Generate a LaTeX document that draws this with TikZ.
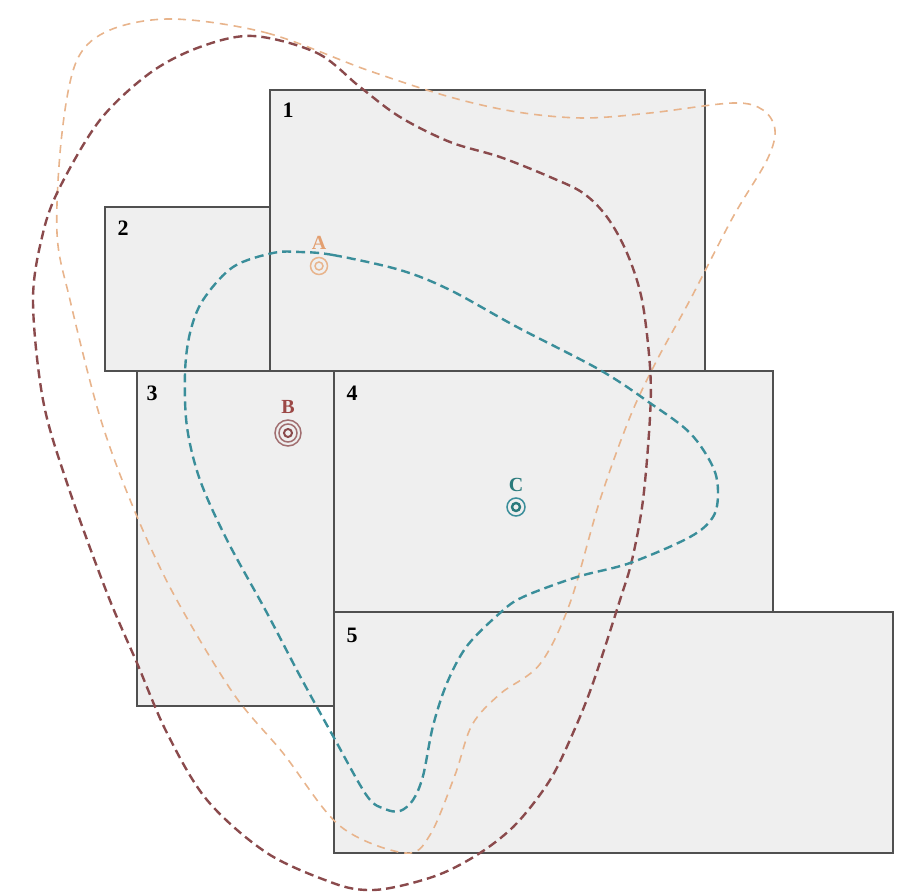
\documentclass[tikz,border=0pt]{standalone}
\usepackage{fontspec}
\setmainfont{Liberation Serif}
\usetikzlibrary{positioning}

\definecolor{peach}{HTML}{E8B48C}
\definecolor{peachtxt}{HTML}{E39F70}
\definecolor{wine}{HTML}{8A4A4C}
\definecolor{winetxt}{HTML}{9C4846}
\definecolor{tealz}{HTML}{3A8E9A}
\definecolor{tealtxt}{HTML}{2A7A7C}
\definecolor{roomfill}{HTML}{EFEFEF}
\definecolor{roomline}{HTML}{505050}

\begin{document}
\begin{tikzpicture}[
  x=1pt, y=-1pt,
  room/.style={fill=roomfill, draw=roomline, line width=1.8pt},
  num/.style={font=\bfseries\fontsize{22}{22}\selectfont, inner sep=0pt},
  ptlbl/.style={font=\bfseries\fontsize{20}{20}\selectfont, inner sep=0pt},
  zone/.style={dash pattern=on 9pt off 5pt, line width=2.4pt},
  ring/.style={line width=1.5pt}
]
\useasboundingbox (0,0) rectangle (900,893);

% rooms
\draw[room] (105,207) rectangle (270,371);
\draw[room] (270,90)  rectangle (705,371);
\draw[room] (137,371) rectangle (334,706);
\draw[room] (334,371) rectangle (773,612);
\draw[room] (334,612) rectangle (893,853);

\node[num] (r1) at (288,110) {1};
\node[num] (r2) at (123,228) {2};
\node[num] (r3) at (152,393) {3};
\node[num] (r4) at (352,393) {4};
\node[num] (r5) at (352,635) {5};

% coverage zones
\draw[zone, peach, line width=1.6pt, dash pattern=on 8pt off 6pt]
  plot[smooth cycle, tension=0.55] coordinates {
    (173,19) (267,33) (367,70) (450,97) (517,112) (583,118) (650,113)
    (733,103) (763,110) (775,130) (767,160) (733,217) (690,300) (657,360)
    (630,417) (600,500) (570,603) (540,664) (500,694) (472,725) (455,775)
    (430,835) (405,853) (340,826) (283,753) (233,693) (173,593) (133,507)
    (100,417) (70,300) (57,233) (62,133) (77,60) (110,30)};
\draw[zone, wine]
  plot[smooth cycle, tension=0.55] coordinates {
    (253,36) (317,53) (360,87) (400,117) (450,142) (500,157) (550,177)
    (583,193) (607,217) (627,253) (642,300) (650,367) (650,417) (643,500)
    (632,560) (620,600) (593,683) (573,733) (550,780) (517,823) (483,851)
    (443,873) (400,886) (367,890) (333,883) (267,853) (207,800) (167,733)
    (137,663) (107,593) (67,483) (43,400) (33,300) (43,233) (60,187)
    (100,120) (150,73) (200,47)};
\draw[zone, tealz]
  plot[smooth cycle, tension=0.55] coordinates {
    (300,252) (333,255) (400,270) (450,290) (517,327) (600,370) (650,403)
    (690,433) (713,467) (718,493) (713,517) (690,537) (630,563) (577,577)
    (523,597) (500,613) (467,646) (447,683) (433,726) (423,776) (413,800)
    (400,811) (385,809) (367,796) (333,736) (300,676) (267,613) (227,540)
    (200,480) (187,427) (185,373) (190,333) (203,300) (233,267) (273,253)};

% access points
\coordinate (ptA) at (319,266);
\coordinate (ptB) at (288,433);
\coordinate (ptC) at (516,507);

\draw[ring, peach] (ptA) circle[radius=8.5pt];
\draw[ring, peach] (ptA) circle[radius=4pt];
\node[ptlbl, text=peachtxt, above=16pt of ptA] (labA) {A};

\draw[ring, wine!80] (ptB) circle[radius=13pt];
\draw[ring, wine!80] (ptB) circle[radius=9pt];
\draw[wine, line width=2pt] (ptB) circle[radius=4pt];
\node[ptlbl, text=winetxt, above=19pt of ptB] (labB) {B};

\draw[ring, tealz] (ptC) circle[radius=9pt];
\draw[tealtxt, line width=2.4pt] (ptC) circle[radius=4pt];
\node[ptlbl, text=tealtxt, above=15pt of ptC] (labC) {C};
\end{tikzpicture}
\end{document}
